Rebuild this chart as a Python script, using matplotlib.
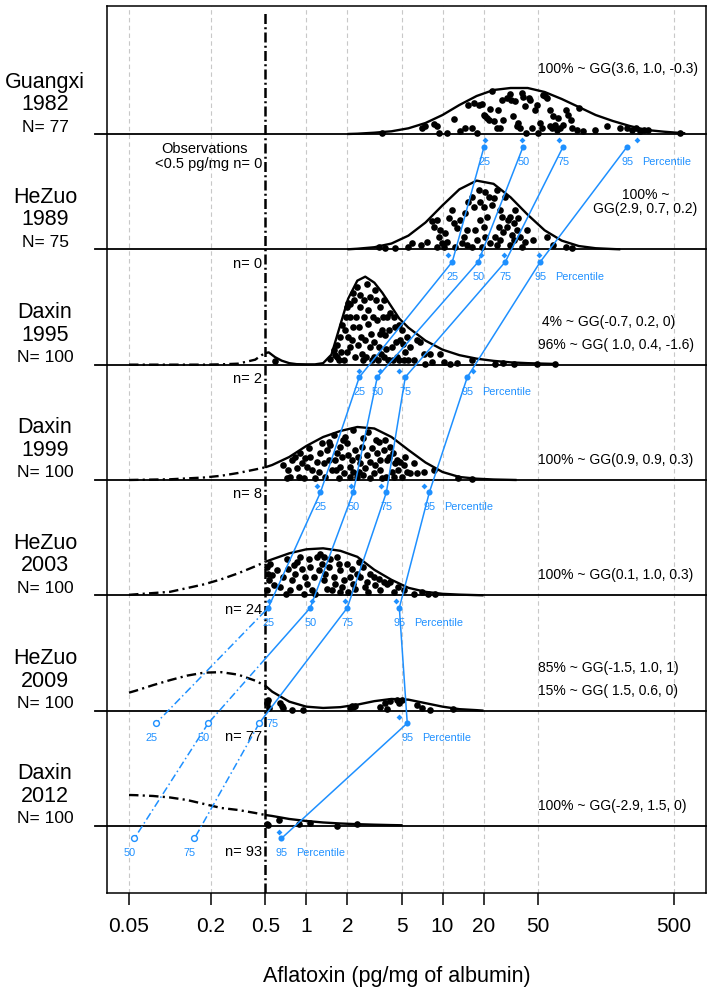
import numpy as np
import matplotlib
matplotlib.use("Agg")
import matplotlib.pyplot as plt
from matplotlib.ticker import NullLocator
from matplotlib.transforms import blended_transform_factory

plt.rcParams['font.family'] = ['Liberation Sans', 'DejaVu Sans']

LOD = 0.5   # detection limit, pg/mg

# ---- rows (top to bottom) ----
sites = ["Guangxi", "HeZuo", "Daxin", "Daxin", "HeZuo", "HeZuo", "Daxin"]
years = [1982, 1989, 1995, 1999, 2003, 2009, 2012]
n_total = [77, 75, 100, 100, 100, 100, 100]
n_below = [0, 0, 2, 8, 24, 77, 93]

fit_1982 = ["100% ~ GG(3.6, 1.0, -0.3)"]
fit_1989 = ["100% ~", "GG(2.9, 0.7, 0.2)"]
fit_1995 = [" 4% ~ GG(-0.7, 0.2, 0)", "96% ~ GG( 1.0, 0.4, -1.6)"]
fit_1999 = ["100% ~ GG(0.9, 0.9, 0.3)"]
fit_2003 = ["100% ~ GG(0.1, 1.0, 0.3)"]
fit_2009 = ["85% ~ GG(-1.5, 1.0, 1)", "15% ~ GG( 1.5, 0.6, 0)"]
fit_2012 = ["100% ~ GG(-2.9, 1.5, 0)"]

# ---- percentiles: fitted (circles) and observed (diamonds) ----
pct_levels = [25, 50, 75, 95]
pct_fit_1982 = [20.2, 39.1, 76.9, 227]
pct_obs_1982 = [20.6, 38.6, 71.9, 269]
pct_fit_1989 = [11.8, 18.3, 28.9, 52.2]
pct_obs_1989 = [11.0, 19.2, 28.4, 51.3]
pct_fit_1995 = [2.45, 3.32, 5.33, 15.2]
pct_obs_1995 = [2.45, 3.49, 4.82, 16.8]
pct_fit_1999 = [1.27, 2.21, 3.87, 8.0]
pct_obs_1999 = [1.20, 2.14, 3.55, 7.35]
pct_fit_2003 = [0.526, 1.07, 2.0, 4.82]
pct_obs_2003 = [0.53, 1.11, 1.93, 4.58]
pct_fit_2009 = [0.079, 0.191, 0.452, 5.51]
pct_obs_2009 = [None, None, None, 4.82]
pct_fit_2012 = [None, 0.0547, 0.151, 0.656]
pct_obs_2012 = [None, None, None, 0.634]

# ---- fitted density curves (x in pg/mg, height in drawing units) ----
dens_x_1982 = [2.0, 2.37, 3.16, 4.22, 5.62, 7.5, 10, 13.3, 17.8, 23.7, 31.6, 42.2,
               56.2, 75, 100, 133, 178, 237, 316, 422, 562, 605]
dens_h_1982 = [0, 0.3, 1.3, 2.7, 5.7, 11, 19, 29, 38, 44, 46, 46,
               42, 35, 27, 19, 13, 8, 4, 2.3, 1, 0.7]
dens_x_1989 = [2.0, 2.37, 3.16, 4.22, 5.62, 7.5, 10, 13.3, 17.8, 23.7, 31.6, 42.2,
               56.2, 75, 100, 133, 178, 202]
dens_h_1989 = [0, 0.6, 2.1, 5.8, 13.7, 26.8, 44, 60, 68.7, 65.5, 52, 34.6,
               19, 8.7, 3.3, 1.1, 0.3, 0]
dens_x_1995 = [0.05, 0.1, 0.178, 0.237, 0.316, 0.422, 0.47, 0.5, 0.53, 0.59, 0.66,
               0.75, 0.85, 1.0, 1.16, 1.33, 1.53, 1.78, 2.03, 2.37, 2.71, 3.16, 3.61,
               4.22, 4.82, 5.62, 7.5, 10, 13.3, 17.8, 23.7, 31.6, 42.2, 56.2, 69]
dens_h_1995 = [0, 0, 0, 0.3, 1, 5, 9.5, 11.5, 12.3, 7.5, 4,
               1.5, 0.5, 0.3, 0.3, 1.5, 10, 40, 66, 84, 88, 82, 72,
               58, 46, 37, 24, 15, 9.5, 6, 3.8, 2.3, 1.5, 1, 0.7]
dens_x_1999 = [0.05, 0.1, 0.178, 0.237, 0.316, 0.422, 0.5, 0.562, 0.75, 1.0, 1.33,
               1.78, 2.37, 3.16, 4.22, 5.62, 7.5, 10, 13.3, 17.8, 23.7, 35]
dens_h_1999 = [0, 0.7, 2.5, 4.2, 7, 10.5, 12.7, 15, 23, 34, 43,
               49, 53, 51.5, 43, 30, 17.5, 8, 3, 1.3, 0.5, 0]
dens_x_2003 = [0.05, 0.1, 0.178, 0.237, 0.316, 0.422, 0.5, 0.562, 0.75, 1.0, 1.33,
               1.78, 2.37, 3.16, 4.22, 5.62, 7.5, 10, 13.3, 20]
dens_h_2003 = [0.5, 3.5, 11, 16, 22, 29, 33.5, 36, 42, 46, 47,
               44.5, 38.5, 25.5, 15.5, 7.5, 3.5, 1.5, 0.7, 0]
dens_x_2009 = [0.05, 0.0562, 0.075, 0.1, 0.133, 0.178, 0.237, 0.316, 0.422, 0.5,
               0.562, 0.75, 1.0, 1.33, 1.78, 2.37, 3.16, 4.22, 5.62, 7.5, 10, 13.3,
               17.8, 20]
dens_h_2009 = [18, 20, 25.5, 30.5, 35, 38, 38.5, 36, 30, 25,
               19, 9, 4, 2.7, 3.5, 6, 9.5, 11.7, 11, 7.5, 4, 1.5,
               0.5, 0]
dens_x_2012 = [0.05, 0.0562, 0.075, 0.1, 0.133, 0.178, 0.237, 0.316, 0.422, 0.5,
               0.562, 0.75, 1.0, 1.33, 1.78, 2.37, 3.16, 4.22, 5.1]
dens_h_2012 = [31, 30.8, 30, 28.5, 26, 22, 18, 16, 13, 11,
               10, 7, 5, 3.5, 2.5, 1.8, 1.3, 0.9, 0.7]

# ---- observations >= LOD (value, vertical jitter) ----
obs_x_1982 = [3.6, 7.1, 7.5, 8.6, 9.1, 9.5, 10.8, 12.1, 14.7, 15.5, 16.4, 16.9, 17.9,
              18.4, 19.5, 20, 20.6, 21.2, 21.8, 22.4, 23, 23.7, 25, 27.3, 28, 29.5,
              31.4, 32, 33, 34, 35, 36, 37, 38, 39, 43, 41, 44, 45, 48, 50, 52, 54,
              55, 57, 58, 62, 64, 65, 67, 69, 71, 73, 81, 84, 87, 89, 97, 100, 160,
              200, 225, 245, 265, 280, 300, 325, 555, 13.5, 25.7, 40, 77, 108, 26.5,
              62, 132, 49]
obs_h_1982 = [1, 6, 7.7, 10, 8, 1, 1, 15, 6, 29, 6, 31, 1,
              29, 30, 19, 18, 16, 14, 25, 43, 13, 6, 34, 14, 36,
              40, 34, 18, 33, 8, 11, 6, 41, 37, 36, 1, 34, 6, 24, 1, 11, 6,
              39, 38, 36, 8, 6, 18, 9, 4, 16, 6, 24, 19, 14, 6, 4, 26, 8,
              6, 6, 4, 6, 3, 4, 4, 1, 3, 24, 28, 9, 3, 6,
              24, 4, 29]
obs_x_1989 = [3.4, 3.8, 4.5, 5.6, 6.0, 6.9, 7.7, 8.4, 8.7, 9.1, 9.4, 9.9, 10.2, 10.5,
              11.1, 11.7, 12.1, 12.8, 13.5, 13.9, 14.7, 15.1, 15.5, 16.4, 16.9, 17.4,
              18.4, 18.9, 19.5, 20.0, 20.6, 21.2, 21.8, 23.0, 23.7, 24.4, 25.1, 25.8,
              26.5, 27.3, 28.0, 28.9, 29.7, 30.5, 31.4, 32.3, 33.2, 34.2, 35.1, 36.1,
              37.2, 38.3, 40.5, 46.4, 58, 65, 81, 89, 9.6, 10.8, 14.3, 17.9, 20.0,
              22.4, 25.1, 16.4, 20.6, 26.5, 31.4, 33.2, 41.7, 18.9, 15.1, 12.4, 9.1]
obs_h_1989 = [2.7, 1, 1, 2.7, 6, 4.3, 7.7, 28, 22.7, 29.3, 12.7, 6, 2.7, 16,
              31, 39.3, 26, 21, 29.3, 6, 36, 19.3, 47.7, 52.7, 42.7, 19.3,
              59.3, 29.3, 2.7, 42.7, 12.7, 32.7, 52.7, 44.3, 51, 12.7, 4.3, 22.7,
              39.3, 32.7, 17.7, 52.7, 22.7, 29.3, 32.7, 14.3, 9.3, 39.3, 19.3, 31,
              12.7, 2.7, 7.7, 9.3, 12.7, 4.3, 2.7, 1, 19.3, 7.7, 12.7, 9.3, 22.7,
              6, 59.3, 2.7, 57.7, 9.3, 4.3, 26, 19.3, 47.7, 4.3, 2.7, 2.7]
obs_x_1995 = [1.50, 1.59, 1.63, 1.68, 1.73, 1.78, 1.83, 1.99, 1.93, 1.99,
              2.04, 2.10, 2.10, 2.16, 2.22, 2.29, 2.35, 2.42, 2.49, 2.56,
              2.64, 2.71, 2.79, 2.86, 2.95, 3.04, 3.12, 3.21, 3.30, 3.39,
              3.49, 3.59, 3.69, 3.80, 3.91, 4.02, 4.14, 4.26, 4.37, 4.50,
              4.63, 4.76, 4.90, 5.04, 5.18, 5.33, 5.48, 5.80, 6.13, 6.49,
              6.87, 7.26, 8.13, 8.37, 9.63, 10.2, 11.4, 12.8, 16.4, 24.4,
              28.0, 33.2, 49.3, 67.3, 0.59,
              1.69, 1.80, 1.90, 1.97, 2.01, 2.08, 2.20, 2.25, 2.33, 2.38,
              2.46, 2.52, 2.61, 2.66, 2.76, 2.82, 2.92, 2.98, 3.08, 3.15,
              3.26, 3.34, 3.45, 3.53, 3.65, 3.73, 3.86, 3.95, 4.08, 4.33,
              4.58, 4.81, 5.13, 5.62, 7.47]
obs_h_1995 = [6, 14.3, 9.3, 19.3, 4.3, 27.7, 40, 57.7, 34.3, 12.7,
              62, 61, 47.7, 24.3, 72, 7.7, 78, 37.7, 57.7, 11,
              47.7, 24.3, 81, 41, 67.7, 4.3, 22.7, 75, 44.3, 17.7,
              57.7, 34.3, 7.7, 29.3, 47.7, 4.3, 52, 17.7, 48, 37.7,
              7.7, 40, 24.3, 35, 4.3, 12.7, 27.7, 17.7, 4.3, 24.3,
              22.7, 11, 11, 2.7, 11, 2.7, 1, 1.7, 5, 1,
              1.7, 1, 0.3, 1, 3.3,
              7.7, 12.7, 4.3, 47.7, 27.7, 17.7, 37.7, 64.3, 47.7, 19.3,
              69.3, 27.7, 4.3, 64.3, 7.7, 54.3, 17.7, 31, 47.7, 7.7,
              64.3, 4.3, 31, 11, 47.7, 64.3, 16, 4.3, 34.3, 4.3,
              22.7, 4.3, 21, 4.3, 1]
obs_x_1999 = [0.68, 0.72, 0.76, 0.79, 0.83, 0.85, 0.90, 0.93, 0.96, 0.98,
              1.04, 1.10, 1.16, 1.23, 1.27, 1.34, 1.42, 1.46, 1.50, 1.54,
              1.59, 1.63, 1.68, 1.73, 1.78, 1.83, 1.88, 1.93, 1.99, 2.04,
              2.10, 2.16, 2.22, 2.29, 2.35, 2.42, 2.49, 2.56, 2.63, 2.71,
              2.79, 2.86, 2.95, 3.03, 3.12, 3.21, 3.30, 3.39, 3.49, 3.59,
              3.69, 3.80, 3.91, 4.02, 4.14, 4.26, 4.37, 4.50, 4.63, 4.90,
              5.04, 5.18, 5.48, 5.80, 6.13, 6.49, 7.26, 8.61, 13.1, 16.4,
              0.74, 0.88, 1.01, 1.07, 1.20, 1.30, 1.38, 1.48, 1.66, 1.76,
              1.86, 2.08, 2.20, 2.38, 2.61, 2.92, 3.26, 3.45, 3.86, 4.33,
              4.75, 5.33]
obs_h_1999 = [15, 1.7, 3.3, 20, 23.3, 11.7, 26.7, 16.7, 1.7, 21.7,
              31.7, 10, 1.7, 8.3, 26.7, 16.7, 30, 38.3, 35, 10,
              45, 20, 26.7, 1.7, 13.3, 23.3, 6.7, 43.3, 36.7, 25,
              13.3, 20, 50, 30, 3.3, 8.3, 16.7, 33.3, 41.7, 11.7,
              25, 48.3, 18.3, 31.7, 6.7, 15, 26.7, 38.3, 10, 1.7,
              30, 40, 20, 23.3, 33.3, 8.3, 3.3, 16.7, 20, 18.3,
              3.3, 15, 8.3, 6.7, 16.7, 6.7, 8.3, 10, 1.7, 0.7,
              10, 3.3, 13.3, 23.3, 18.3, 36.7, 3.3, 20, 10, 33.3,
              40, 3.3, 8.3, 23.3, 5, 1.7, 40, 20, 3.3, 26.7,
              10, 23.3]
obs_x_2003 = [0.515, 0.52, 0.53, 0.515, 0.56, 0.61, 0.64, 0.68, 0.72, 0.74,
              0.76, 0.79, 0.81, 0.83, 0.88, 0.90, 0.93, 0.96, 0.98, 1.01,
              1.04, 1.07, 1.10, 1.13, 1.20, 1.23, 1.27, 1.30, 1.34, 1.38,
              1.42, 1.46, 1.50, 1.54, 1.59, 1.63, 1.68, 1.73, 1.78, 1.83,
              1.88, 1.99, 2.04, 2.10, 2.16, 2.22, 2.29, 2.35, 2.49, 2.63,
              2.71, 2.79, 2.95, 3.12, 3.21, 3.39, 3.49, 3.69, 3.91, 4.14,
              4.37, 4.75, 5.18, 6.13, 7.04, 7.88, 8.85,
              0.54, 0.58, 0.71, 0.85, 1.16, 1.36, 1.76, 2.42, 2.86]
obs_h_2003 = [28.3, 21.7, 15, 5, 20, 25, 8.3, 18.3, 36.7, 26.7,
              5, 15, 30, 21.7, 8.3, 38.3, 26.7, 1, 18.3, 11.7,
              36.7, 28.3, 5, 18.3, 38.3, 25, 41.7, 31.7, 15, 21.7,
              6.7, 28.3, 36.7, 5, 18.3, 11.7, 38.3, 31.7, 25, 8.3,
              15, 31.7, 3.3, 18.3, 26.7, 11.7, 6.7, 21.7, 18.3, 28.3,
              8.3, 13.3, 21.7, 18.3, 10, 16.7, 5, 13.3, 11.7, 13,
              3.3, 8.3, 5, 1.7, 3.3, 1.7, 1.7,
              31.7, 10, 1.7, 33.3, 1.7, 38.3, 3.3, 33.3, 3.3]
obs_x_2009 = [0.515, 0.52, 0.53, 0.64, 0.66, 0.68, 0.79, 0.95, 2.10, 2.16, 2.22,
              2.29, 3.49, 3.80, 3.91, 4.14, 4.63, 4.76, 5.04, 6.49, 7.04, 8.13, 12.0]
obs_h_2009 = [8, 11, 3, 7.7, 4.3, 2.7, 1, 1, 2.7, 4.3, 3.3,
              5, 4, 8, 2, 9.3, 11, 8, 10.3, 5.3, 2.7, 1, 1.3]
obs_x_2012 = [0.515, 0.52, 0.63, 0.88, 1.07, 1.69, 2.35]
obs_h_2012 = [2, 0.5, 6.3, 1.5, 2.7, 0.3, 1.7]

xticks = [0.05, 0.2, 0.5, 1, 2, 5, 10, 20, 50, 500]
xtick_labels = ["0.05", "0.2", "0.5", "1", "2", "5", "10", "20", "50", "500"]

# collect per row
fits = [fit_1982, fit_1989, fit_1995, fit_1999, fit_2003, fit_2009, fit_2012]
pct_fit = [pct_fit_1982, pct_fit_1989, pct_fit_1995, pct_fit_1999, pct_fit_2003,
           pct_fit_2009, pct_fit_2012]
pct_obs = [pct_obs_1982, pct_obs_1989, pct_obs_1995, pct_obs_1999, pct_obs_2003,
           pct_obs_2009, pct_obs_2012]
dens_x = [dens_x_1982, dens_x_1989, dens_x_1995, dens_x_1999, dens_x_2003,
          dens_x_2009, dens_x_2012]
dens_h = [dens_h_1982, dens_h_1989, dens_h_1995, dens_h_1999, dens_h_2003,
          dens_h_2009, dens_h_2012]
obs_x = [obs_x_1982, obs_x_1989, obs_x_1995, obs_x_1999, obs_x_2003, obs_x_2009,
         obs_x_2012]
obs_h = [obs_h_1982, obs_h_1989, obs_h_1995, obs_h_1999, obs_h_2003, obs_h_2009,
         obs_h_2012]

# ---- layout (pixel based, y = -pixel row) ----
W, H = 713, 993
row0, row_gap = 134, 115.33
base = [-(row0 + i * row_gap) for i in range(len(years))]
blue = '#1e90ff'
dashdot = (0, (4, 1.8, 0.9, 1.8))
blue_dd = (0, (5, 2, 1, 2))
PT = 0.72  # points per pixel

fig = plt.figure(figsize=(W / 100, H / 100), dpi=100)
ax = fig.add_axes([107 / W, 1 - 893 / H, 599 / W, 887 / H])
ax.set_xscale('log')
ax.set_xlim(0.03446, 859)
ax.set_ylim(-893, -6)
trans = blended_transform_factory(ax.transAxes, ax.transData)

# grid
for t in xticks:
    if t != LOD:
        ax.axvline(t, color='#c8c8c8', lw=0.8, ls=(0, (4, 3)), zorder=0)
ax.axvline(LOD, ymin=0, ymax=0.993, color='k', lw=1.8, ls=(0, (4, 1.3, 0.8, 1.3)),
           zorder=3)

for r, b in enumerate(base):
    ax.plot([-0.02, 1], [b, b], color='k', lw=1.3, transform=trans, clip_on=False,
            zorder=2)

    # density curve: dash-dot below the detection limit
    x = np.array(dens_x[r])
    h = np.array(dens_h[r])
    lo = x <= LOD
    hi = x >= LOD
    if lo.sum() > 1:
        ax.plot(x[lo], b + h[lo], color='k', lw=1.7, ls=dashdot, zorder=3)
    ax.plot(x[hi], b + h[hi], color='k', lw=1.7, zorder=3, solid_capstyle='butt')

    ax.plot(obs_x[r], b + np.array(obs_h[r]), 'o', color='k', ms=4.8, mew=0,
            zorder=3)

    # row labels
    ax.text(-0.1035, b + 46.5, sites[r], transform=trans, ha='center',
            va='baseline', fontsize=15.5)
    ax.text(-0.1035, b + 24, str(years[r]), transform=trans, ha='center',
            va='baseline', fontsize=15.5)
    ax.text(-0.1035, b + 2.5, "N= %d" % n_total[r], transform=trans, ha='center',
            va='baseline', fontsize=12.5)

    # counts below detection limit
    if r == 0:
        ax.text(0.475, b - 34.3, "<0.5 pg/mg n= %d" % n_below[r], ha='right',
                va='baseline', fontsize=10.5)
        ax.text(0.178, b - 19.3, "Observations", ha='center', va='baseline',
                fontsize=10.5)
    else:
        dy = 30 if r >= 5 else 18.5
        ax.text(0.475, b - dy, "n= %d" % n_below[r], ha='right', va='baseline',
                fontsize=10.5)

    # fitted mixture description
    lines = fits[r]
    if r == 1:
        ax.text(308, b + 50, lines[0], ha='center', va='baseline', fontsize=10)
        ax.text(308, b + 36.5, lines[1], ha='center', va='baseline', fontsize=10)
    else:
        top = 61 if r == 0 else 16
        for k, s in enumerate(lines):
            ax.text(50, b + top + 23 * (len(lines) - 1 - k), s, ha='left',
                    va='baseline', fontsize=10)

    # percentile markers and labels
    for i, p in enumerate(pct_levels):
        m = pct_fit[r][i]
        o = pct_obs[r][i]
        if o is not None:
            ax.plot(o, b - 6, 'D', color=blue, ms=3, mew=0, zorder=5)
        if m is None:
            continue
        if m < LOD:
            ax.plot(m, b - 12.5, 'o', mfc='white', mec=blue, ms=4.2, mew=1, zorder=5)
        else:
            ax.plot(m, b - 12.5, 'o', color=blue, ms=4.4, mew=0, zorder=5)
        if r == 5 and p == 75:
            ax.annotate(str(p), (m, b - 16), xytext=(7 * PT, 0),
                        textcoords='offset points', ha='left', va='baseline',
                        fontsize=7.8, color=blue)
            continue
        dx = -5 if m < LOD else 0
        ax.annotate(str(p), (m, b - 30.5), xytext=(dx * PT, 0),
                    textcoords='offset points', ha='center', va='baseline',
                    fontsize=7.8, color=blue)
        if p == 95:
            ax.annotate("Percentile", (m, b - 30.5), xytext=(15 * PT, 0),
                        textcoords='offset points', ha='left', va='baseline',
                        fontsize=7.8, color=blue)

# lines joining the same percentile in consecutive surveys
l0 = np.log10(LOD)
for r in range(len(base) - 1):
    for i in range(len(pct_levels)):
        x1, x2 = pct_fit[r][i], pct_fit[r + 1][i]
        if x1 is None or x2 is None:
            continue
        y1, y2 = base[r] - 12.5, base[r + 1] - 12.5
        l1, l2 = np.log10(x1), np.log10(x2)
        if (l1 - l0) * (l2 - l0) < 0:
            t = (l0 - l1) / (l2 - l1)
            ym = y1 + t * (y2 - y1)
            parts = [((x1, LOD), (y1, ym)), ((LOD, x2), (ym, y2))]
        else:
            parts = [((x1, x2), (y1, y2))]
        for xs, ys in parts:
            below = np.sqrt(xs[0] * xs[1]) < LOD
            ax.plot(xs, ys, color=blue, lw=1.1, ls=blue_dd if below else '-',
                    zorder=4)

ax.set_xticks(xticks)
ax.set_xticklabels(xtick_labels)
ax.xaxis.set_minor_locator(NullLocator())
ax.set_yticks([])
ax.tick_params(axis='x', length=8.6, width=1.1, labelsize=15, pad=9)
for sp in ax.spines.values():
    sp.set_linewidth(1.1)
ax.set_xlabel("Aflatoxin (pg/mg of albumin)", fontsize=15.5)
ax.xaxis.set_label_coords(0.484, -0.0823)

fig.savefig("out.png", dpi=100)
